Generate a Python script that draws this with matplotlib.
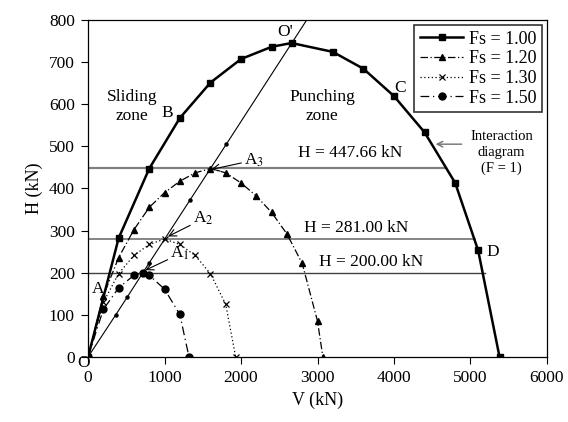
import matplotlib
matplotlib.use("Agg")
import matplotlib.pyplot as plt

plt.rcParams['font.family'] = ['Liberation Serif', 'DejaVu Serif']
plt.rcParams['mathtext.fontset'] = 'stix'

# interaction curves
v_100 = [0, 400, 800, 1200, 1600, 2000, 2400, 2660, 3200, 3600, 4000, 4400, 4800, 5100, 5380]
h_100 = [0, 282, 447, 567, 651, 707, 736, 745, 724, 684, 619, 533, 413, 253, 0]

v_120 = [0, 200, 400, 600, 800, 1000, 1200, 1400, 1600, 1800, 2000, 2200, 2400, 2600, 2800, 3000, 3070]
h_120 = [0, 145, 236, 302, 355, 390, 417, 437, 447, 437, 413, 382, 343, 292, 222, 85, 0]

v_130 = [0, 200, 400, 600, 800, 1000, 1200, 1400, 1600, 1800, 1930]
h_130 = [0, 130, 198, 241, 267, 280, 267, 241, 198, 125, 0]

v_150 = [0, 200, 400, 600, 720, 800, 1000, 1200, 1320]
h_150 = [0, 113, 164, 194, 200, 194, 161, 101, 0]

# line O-O'
v_oo = [0, 362, 512, 795, 1335, 1808, 2860]
h_oo = [0, 100, 142, 222, 373, 505, 800]

# horizontal levels and where they meet the Fs = 1 curve
h_levels = [447.66, 281.00, 200.00]
v_level_end = [4685, 5055, 5185]
level_labels = ['H = 447.66 kN', 'H = 281.00 kN', 'H = 200.00 kN']

fig = plt.figure(figsize=(5.68, 4.22), dpi=100)
ax = fig.add_axes([0.155, 0.154, 0.808, 0.799])

lev_col = ['#808080', '#707070', '#404040']
lev_lw = [1.6, 1.2, 1.0]
for h, ve, c, lw in zip(h_levels, v_level_end, lev_col, lev_lw):
    ax.plot([0, ve], [h, h], color=c, lw=lw, zorder=1)

ax.plot(v_oo, h_oo, color='black', lw=0.8, marker='o', ms=2.2,
        markevery=[1, 2, 3, 4, 5], zorder=2)

ax.plot(v_100, h_100, color='black', lw=1.8, marker='s', ms=5, label='Fs = 1.00', zorder=4)
ax.plot(v_120, h_120, color='black', lw=0.9, ls=(0, (6, 2, 1, 2)), marker='^', ms=4.5,
        label='Fs = 1.20', zorder=3)
ax.plot(v_130, h_130, color='black', lw=0.9, ls=(0, (1, 2)), marker='x', ms=5,
        mew=0.9, label='Fs = 1.30', zorder=3)
ax.plot(v_150, h_150, color='black', lw=0.9, ls=(0, (7, 3, 1, 3)), marker='o', ms=5,
        label='Fs = 1.50', zorder=3)

ax.set_xlim(0, 6000)
ax.set_ylim(0, 800)
ax.set_xticks(range(0, 6001, 1000))
ax.set_yticks(range(0, 801, 100))
ax.tick_params(direction='out', labelsize=12.5, length=5, width=0.8, pad=4.5)
ax.set_xlabel('V (kN)', fontsize=13)
ax.set_ylabel('H (kN)', fontsize=13)
for s in ax.spines.values():
    s.set_linewidth(0.9)

leg = ax.legend(loc='upper right', fontsize=13, frameon=True, fancybox=False,
                edgecolor='black', handlelength=2.4, borderpad=0.3,
                labelspacing=0.15, handletextpad=0.3, borderaxespad=0.3)
leg.get_frame().set_linewidth(1.2)

fs = 12.5
ax.text(575, 594, 'Sliding\nzone', ha='center', va='center', fontsize=fs, linespacing=1.2)
ax.text(3060, 594, 'Punching\nzone', ha='center', va='center', fontsize=fs, linespacing=1.2)
ax.text(1038, 578, 'B', ha='center', va='center', fontsize=fs)
ax.text(4083, 639, 'C', ha='center', va='center', fontsize=fs)
ax.text(5294, 249, 'D', ha='center', va='center', fontsize=fs)
ax.text(2571, 771, "O'", ha='center', va='center', fontsize=fs)
ax.text(-60, -14, 'O', ha='center', va='center', fontsize=fs, clip_on=False)
ax.text(131, 162, 'A', ha='center', va='center', fontsize=fs)

for lab, h, xc in zip(level_labels, [483, 305, 225.5], [3427, 3508, 3695]):
    ax.text(xc, h, lab, ha='center', va='center', fontsize=fs)

apr = dict(arrowstyle='->', color='black', lw=0.8, shrinkA=0, shrinkB=0)
ax.annotate(r'A$_{3}$', xy=(1613, 445), xytext=(2040, 467), fontsize=fs,
            va='center', arrowprops=apr)
ax.annotate(r'A$_{2}$', xy=(1046, 286), xytext=(1372, 328), fontsize=fs,
            va='center', arrowprops=apr)
ax.annotate(r'A$_{1}$', xy=(750, 206), xytext=(1076, 245), fontsize=fs,
            va='center', arrowprops=apr)
ax.annotate('', xy=(4545, 505), xytext=(4885, 505),
            arrowprops=dict(arrowstyle='->', color='#707070', lw=1.0,
                            shrinkA=0, shrinkB=0))
ax.text(5404, 485, 'Interaction\ndiagram\n(F = 1)', ha='center', va='center',
        fontsize=10.5, linespacing=1.3)

fig.savefig('out.png', dpi=100)
